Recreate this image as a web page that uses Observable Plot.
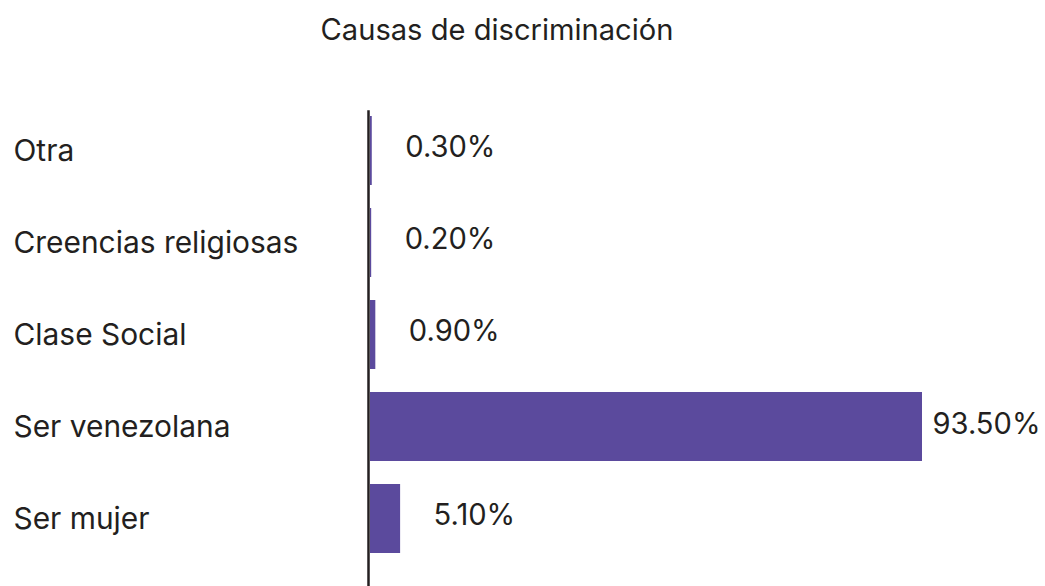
<!DOCTYPE html>
<html>
<head>
<meta charset="utf-8">
<script src="https://cdn.jsdelivr.net/npm/d3@7"></script>
<script src="https://cdn.jsdelivr.net/npm/@observablehq/plot@0.6"></script>
<style>
  body { margin: 0; background: #fff; font-family: Inter, "Noto Sans", sans-serif; color: #231f20; }
  #title { width: 994px; height: 60px; line-height: 60px; text-align: center; }
</style>
</head>
<body>
<div id="title">Causas de discriminación</div>
<div id="chart"></div>
<script>
const categories = ["Otra", "Creencias religiosas", "Clase Social", "Ser venezolana", "Ser mujer"];
const values = [0.3, 0.2, 0.9, 93.5, 5.1];
const labels = ["0.30%", "0.20%", "0.90%", "93.50%", "5.10%"];

const data = categories.map((c, i) => ({category: c, value: values[i], label: labels[i]}));

const FONT = "Inter";
const ctx = document.createElement("canvas").getContext("2d");
function fit(text, target) {
  ctx.font = `100px ${FONT}`;
  return 100 * target / ctx.measureText(text).width;
}
const catSize = fit("Creencias religiosas", 285);
const valSize = fit("93.50%", 108);
const titleSize = fit("Causas de discriminación", 353);
document.getElementById("title").style.fontSize = titleSize + "px";
document.getElementById("title").style.fontFamily = FONT;

const chart = Plot.plot({
  width: 1045,
  height: 526,
  marginLeft: 370,
  marginRight: 123,
  marginTop: 43.25,
  marginBottom: 20.25,
  style: {fontFamily: FONT, color: "#231f20", background: "#fff"},
  x: {domain: [0, 93.5], axis: null},
  y: {domain: categories, paddingInner: 0.254, paddingOuter: 0.127, axis: null},
  marks: [
    Plot.barX(data, {x: "value", y: "category", fill: "#5b4a9d"}),
    Plot.ruleX([0], {stroke: "#231f20", strokeWidth: 2.5, dx: -2, insetTop: 7, insetBottom: -22}),
    Plot.text(data, {y: "category", text: "category", frameAnchor: "left", textAnchor: "start", dx: -357, fill: "#231f20", fontSize: catSize}),
    Plot.text(data.filter(d => d.value < 50), {x: "value", y: "category", text: "label", textAnchor: "start", dx: 33, dy: -3, fill: "#231f20", fontSize: valSize}),
    Plot.text(data.filter(d => d.value >= 50), {x: "value", y: "category", text: "label", textAnchor: "start", dx: 10, dy: -2, fill: "#231f20", fontSize: valSize})
  ]
});
document.getElementById("chart").appendChild(chart);
</script>
</body>
</html>
